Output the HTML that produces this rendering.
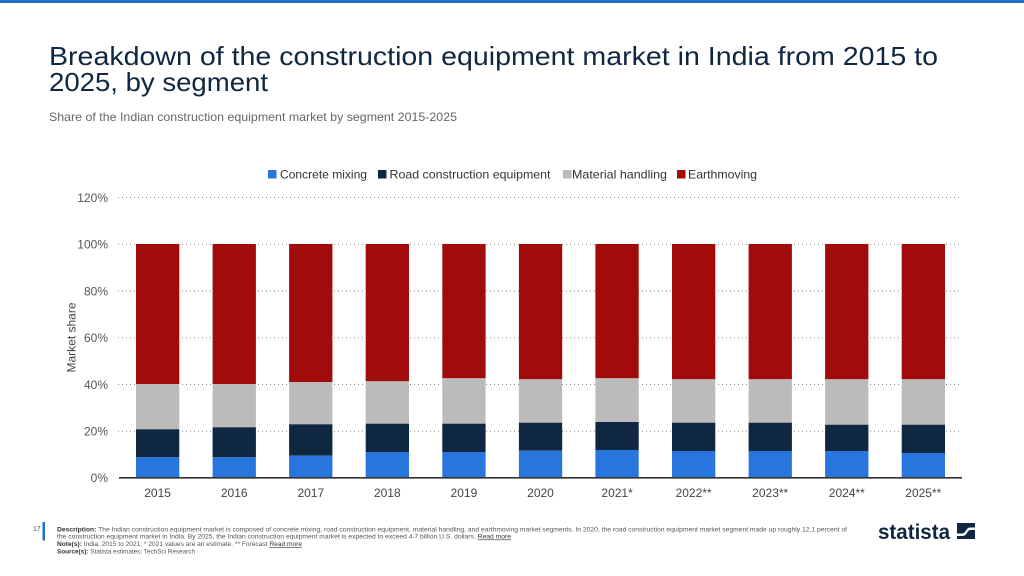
<!DOCTYPE html>
<html><head><meta charset="utf-8"><style>
html,body{margin:0;padding:0;background:#fff;}
svg{display:block;}
text{font-family:"Liberation Sans",Arial,sans-serif;}
</style></head><body>
<svg width="1024" height="576" viewBox="0 0 1024 576" xmlns="http://www.w3.org/2000/svg">
<rect x="0" y="0" width="1024" height="576" fill="#fff"/>
<rect x="0" y="0" width="1024" height="3" fill="#1f6fc5"/>
<text x="49" y="65" font-size="26" fill="#0f2741" textLength="889" lengthAdjust="spacingAndGlyphs">Breakdown of the construction equipment market in India from 2015 to</text>
<text x="49" y="91" font-size="26" fill="#0f2741" textLength="219" lengthAdjust="spacingAndGlyphs">2025, by segment</text>
<text x="49" y="121" font-size="12" fill="#666" textLength="408" lengthAdjust="spacingAndGlyphs">Share of the Indian construction equipment market by segment 2015-2025</text>

<!-- legend -->
<rect x="268" y="170" width="8.5" height="8.5" fill="#2876dd"/>
<text x="280" y="178.5" font-size="12" fill="#333" textLength="87" lengthAdjust="spacingAndGlyphs">Concrete mixing</text>
<rect x="378" y="170" width="8.5" height="8.5" fill="#0f2741"/>
<text x="389.5" y="178.5" font-size="12" fill="#333" textLength="161" lengthAdjust="spacingAndGlyphs">Road construction equipment</text>
<rect x="563" y="170" width="8.5" height="8.5" fill="#bbbbbb"/>
<text x="572" y="178.5" font-size="12" fill="#333" textLength="95" lengthAdjust="spacingAndGlyphs">Material handling</text>
<rect x="677" y="170" width="8.5" height="8.5" fill="#a10b0b"/>
<text x="688" y="178.5" font-size="12" fill="#333" textLength="69" lengthAdjust="spacingAndGlyphs">Earthmoving</text>

<!-- gridlines -->
<g stroke="#8a8a8a" stroke-width="1" stroke-dasharray="1,3">
<line x1="118" y1="197.5" x2="962" y2="197.5"/>
<line x1="118" y1="244.3" x2="962" y2="244.3"/>
<line x1="118" y1="291" x2="962" y2="291"/>
<line x1="118" y1="337.8" x2="962" y2="337.8"/>
<line x1="118" y1="384.5" x2="962" y2="384.5"/>
<line x1="118" y1="431.2" x2="962" y2="431.2"/>
</g>

<!-- y tick labels -->
<g font-size="12" fill="#555" text-anchor="end">
<text x="108" y="202">120%</text>
<text x="108" y="248.5">100%</text>
<text x="108" y="295.5">80%</text>
<text x="108" y="342">60%</text>
<text x="108" y="389">40%</text>
<text x="108" y="435.5">20%</text>
<text x="108" y="482">0%</text>
</g>
<text transform="translate(75.5,337.5) rotate(-90)" font-size="12" fill="#444" text-anchor="middle">Market share</text>

<!-- bars -->
<g>
<!-- i=0 -->
<rect x="136" y="244" width="43.3" height="140" fill="#a10b0b"/>
<rect x="136" y="384" width="43.3" height="45.3" fill="#bbbbbb"/>
<rect x="136" y="429.3" width="43.3" height="28" fill="#0f2741"/>
<rect x="136" y="457.3" width="43.3" height="20.2" fill="#2876dd"/>
<!-- i=1 -->
<rect x="212.6" y="244" width="43.3" height="140" fill="#a10b0b"/>
<rect x="212.6" y="384" width="43.3" height="43.3" fill="#bbbbbb"/>
<rect x="212.6" y="427.3" width="43.3" height="30" fill="#0f2741"/>
<rect x="212.6" y="457.3" width="43.3" height="20.2" fill="#2876dd"/>
<!-- i=2 -->
<rect x="289.1" y="244" width="43.3" height="138" fill="#a10b0b"/>
<rect x="289.1" y="382" width="43.3" height="42.3" fill="#bbbbbb"/>
<rect x="289.1" y="424.3" width="43.3" height="31.4" fill="#0f2741"/>
<rect x="289.1" y="455.7" width="43.3" height="21.8" fill="#2876dd"/>
<!-- i=3 -->
<rect x="365.7" y="244" width="43.3" height="137.3" fill="#a10b0b"/>
<rect x="365.7" y="381.3" width="43.3" height="42.4" fill="#bbbbbb"/>
<rect x="365.7" y="423.7" width="43.3" height="28.3" fill="#0f2741"/>
<rect x="365.7" y="452" width="43.3" height="25.5" fill="#2876dd"/>
<!-- i=4 -->
<rect x="442.3" y="244" width="43.3" height="134.3" fill="#a10b0b"/>
<rect x="442.3" y="378.3" width="43.3" height="45.4" fill="#bbbbbb"/>
<rect x="442.3" y="423.7" width="43.3" height="28.3" fill="#0f2741"/>
<rect x="442.3" y="452" width="43.3" height="25.5" fill="#2876dd"/>
<!-- i=5 -->
<rect x="518.9" y="244" width="43.3" height="135.3" fill="#a10b0b"/>
<rect x="518.9" y="379.3" width="43.3" height="43.4" fill="#bbbbbb"/>
<rect x="518.9" y="422.7" width="43.3" height="28" fill="#0f2741"/>
<rect x="518.9" y="450.7" width="43.3" height="26.8" fill="#2876dd"/>
<!-- i=6 -->
<rect x="595.4" y="244" width="43.3" height="134.3" fill="#a10b0b"/>
<rect x="595.4" y="378.3" width="43.3" height="43.7" fill="#bbbbbb"/>
<rect x="595.4" y="422" width="43.3" height="28" fill="#0f2741"/>
<rect x="595.4" y="450" width="43.3" height="27.5" fill="#2876dd"/>
<!-- i=7 -->
<rect x="672" y="244" width="43.3" height="135.3" fill="#a10b0b"/>
<rect x="672" y="379.3" width="43.3" height="43.4" fill="#bbbbbb"/>
<rect x="672" y="422.7" width="43.3" height="28.3" fill="#0f2741"/>
<rect x="672" y="451" width="43.3" height="26.5" fill="#2876dd"/>
<!-- i=8 -->
<rect x="748.6" y="244" width="43.3" height="135.3" fill="#a10b0b"/>
<rect x="748.6" y="379.3" width="43.3" height="43.4" fill="#bbbbbb"/>
<rect x="748.6" y="422.7" width="43.3" height="28.3" fill="#0f2741"/>
<rect x="748.6" y="451" width="43.3" height="26.5" fill="#2876dd"/>
<!-- i=9 -->
<rect x="825.1" y="244" width="43.3" height="135.3" fill="#a10b0b"/>
<rect x="825.1" y="379.3" width="43.3" height="45.4" fill="#bbbbbb"/>
<rect x="825.1" y="424.7" width="43.3" height="26.3" fill="#0f2741"/>
<rect x="825.1" y="451" width="43.3" height="26.5" fill="#2876dd"/>
<!-- i=10 -->
<rect x="901.7" y="244" width="43.3" height="135.3" fill="#a10b0b"/>
<rect x="901.7" y="379.3" width="43.3" height="45.4" fill="#bbbbbb"/>
<rect x="901.7" y="424.7" width="43.3" height="28.3" fill="#0f2741"/>
<rect x="901.7" y="453" width="43.3" height="24.5" fill="#2876dd"/>
</g>

<line x1="119" y1="477.8" x2="962" y2="477.8" stroke="#333" stroke-width="1.6"/>

<!-- x labels -->
<g font-size="12" fill="#444" text-anchor="middle">
<text x="157.6" y="497">2015</text>
<text x="234.2" y="497">2016</text>
<text x="310.8" y="497">2017</text>
<text x="387.3" y="497">2018</text>
<text x="463.9" y="497">2019</text>
<text x="540.5" y="497">2020</text>
<text x="617.1" y="497">2021*</text>
<text x="693.6" y="497">2022**</text>
<text x="770.2" y="497">2023**</text>
<text x="846.8" y="497">2024**</text>
<text x="923.3" y="497">2025**</text>
</g>

<!-- footer -->
<text x="33" y="531" font-size="7" fill="#555">17</text>
<rect x="42.5" y="522" width="2.5" height="18.5" fill="#1f6fc5"/>
<g font-size="6.2" fill="#555">
<text x="57" y="531.5" textLength="790" lengthAdjust="spacingAndGlyphs"><tspan font-weight="bold" fill="#333">Description:</tspan> The Indian construction equipment market is composed of concrete mixing, road construction equipment, material handling, and earthmoving market segments. In 2020, the road construction equipment market segment made up roughly 12.1 percent of</text>
<text x="57" y="538.5" textLength="454" lengthAdjust="spacingAndGlyphs">the construction equipment market in India. By 2025, the Indian construction equipment market is expected to exceed 4.7 billion U.S. dollars. <tspan text-decoration="underline" fill="#333">Read more</tspan></text>
<text x="57" y="546" textLength="245" lengthAdjust="spacingAndGlyphs"><tspan font-weight="bold" fill="#333">Note(s):</tspan> India; 2015 to 2021; * 2021 values are an estimate. ** Forecast <tspan text-decoration="underline" fill="#333">Read more</tspan></text>
<text x="57" y="553.5" textLength="138" lengthAdjust="spacingAndGlyphs"><tspan font-weight="bold" fill="#333">Source(s):</tspan> Statista estimates; TechSci Research</text>
</g>

<!-- logo -->
<text x="878" y="539" font-size="21" font-weight="bold" fill="#0f2741" textLength="72" lengthAdjust="spacingAndGlyphs">statista</text>
<g transform="translate(957,523)">
<rect x="0" y="0" width="18" height="16" fill="#0f2741"/>
<path d="M0,9 C5,9 6,3 11,3 L18,3 L18,0 L0,0 Z" fill="#fff" opacity="0"/>
<path d="M-0.5,10.5 L5,10.5 C9,10.5 9,4.5 13,4.5 L18.5,4.5 L18.5,7 L13.5,7 C10,7 10,13 5.5,13 L-0.5,13 Z" fill="#fff"/>
</g>
</svg>
</body></html>
